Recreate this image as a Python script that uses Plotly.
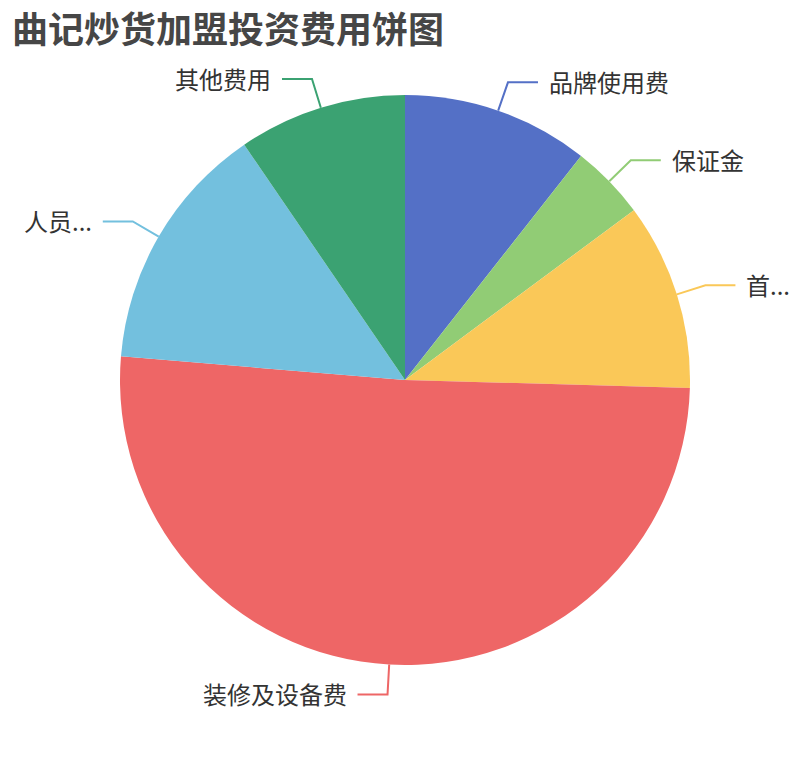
import numpy as np
import plotly.graph_objects as go

# dados (valores em 万元)
categorias = ["品牌使用费", "保证金", "首...", "装修及设备费", "人员...", "其他费用"]
valores = [3.0, 1.2, 3.0, 14.4, 4.0, 2.7]
cores = ["#5470c6", "#91cc75", "#fac858", "#ee6666", "#73c0de", "#3ba272"]
titulo = "曲记炒货加盟投资费用饼图"

# área útil da página: janela 810x760 menos a margem de 8px do body
OX, OY = 8, 8
W, H = 810 - 2 * OX, 760 - 2 * OY
cx, cy, raio = 405, 380, 285
fonte = "Noto Sans CJK SC, Noto Sans, sans-serif"


def para_papel(px, py):
    return (px - OX) / W, 1 - (py - OY) / H


x0, y1 = para_papel(cx - raio, cy - raio)
x1, y0 = para_papel(cx + raio, cy + raio)

fig = go.Figure(go.Pie(
    labels=categorias,
    values=valores,
    sort=False,
    direction="clockwise",
    rotation=0,
    textinfo="none",
    hoverinfo="label+value+percent",
    marker=dict(colors=cores, line=dict(width=0)),
    domain=dict(x=[x0, x1], y=[y0, y1]),
    showlegend=False,
))

# linhas-guia e rótulos calculados a partir dos ângulos das fatias
total = sum(valores)
acum = np.cumsum([0] + valores)
shapes, anots = [], []
for i, nome in enumerate(categorias):
    meio = (acum[i] + acum[i + 1]) / 2 / total * 2 * np.pi
    sx, sy = cx + raio * np.sin(meio), cy - raio * np.cos(meio)
    ex, ey = cx + (raio + 30) * np.sin(meio), cy - (raio + 30) * np.cos(meio)
    lado = 1 if np.sin(meio) >= 0 else -1
    fx = ex + lado * 30
    pts = [para_papel(sx, sy), para_papel(ex, ey), para_papel(fx, ey)]
    caminho = "M {} {} L {} {} L {} {}".format(*[v for p in pts for v in p])
    shapes.append(dict(type="path", path=caminho, xref="paper", yref="paper",
                       line=dict(color=cores[i], width=2)))
    tx, ty = para_papel(fx + lado * 9, ey - 1)
    anots.append(dict(text=nome, x=tx, y=ty, xref="paper", yref="paper",
                      xanchor="left" if lado > 0 else "right", yanchor="middle",
                      showarrow=False, font=dict(size=24, color="#333333", family=fonte)))

# título
tx, ty = para_papel(10, 27)
anots.append(dict(text="<b>" + titulo + "</b>", x=tx, y=ty, xref="paper", yref="paper",
                  xanchor="left", yanchor="middle", showarrow=False,
                  font=dict(size=36, color="#464646", family=fonte)))

fig.update_layout(
    shapes=shapes,
    annotations=anots,
    margin=dict(l=0, r=0, t=0, b=0),
    paper_bgcolor="white",
    plot_bgcolor="white",
)

fig.write_html("out.html")
